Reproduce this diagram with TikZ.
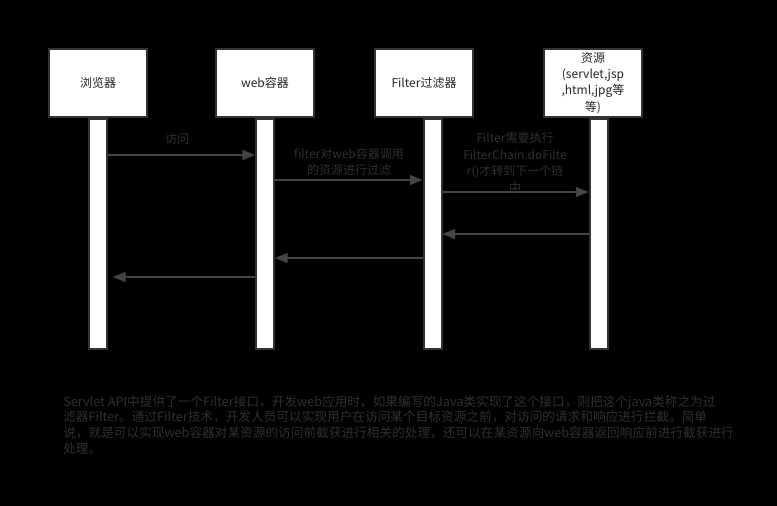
\documentclass[tikz,border=0pt]{standalone}
\usepackage{fontspec}
\setmainfont{Noto Sans CJK SC}
\usepackage{xcolor}
\usetikzlibrary{arrows.meta}
\definecolor{linegray}{HTML}{454545}
\definecolor{boxgray}{HTML}{333333}
\definecolor{textgray}{HTML}{303030}

\begin{document}
\begin{tikzpicture}[x=0.75pt,y=-0.75pt,
	actor/.style={draw=boxgray,line width=1.5pt,fill=white,minimum width=74pt,minimum height=51.5pt,inner sep=1pt,align=center,text=black!85,font=\fontsize{9}{12.2}\selectfont},
	bar/.style={draw=boxgray,line width=1.5pt,fill=white,minimum width=13.5pt,minimum height=172.5pt,inner sep=0pt},
	msg/.style={draw=linegray,line width=1pt,-{Triangle[length=9.5pt,width=7.5pt]}},
	lbl/.style={text=textgray,align=center,font=\fontsize{9}{12.4}\selectfont}]
	\fill[black] (0,0) rectangle (777,506);
	\useasboundingbox (0,0) rectangle (777,506);
	% lifelines
	\node[bar] (browserbar) at (98,234) {};
	\node[bar] (webbar) at (265,234) {};
	\node[bar] (filterbar) at (432.5,234) {};
	\node[bar] (resbar) at (598.5,234) {};
	% participants
	\node[actor] (browser) at (98,83) {浏览器};
	\node[actor] (web) at (265,83) {web容器};
	\node[actor] (filter) at (424,83) {Filter过滤器};
	\node[actor] (res) at (593,83) {资源\\(servlet,jsp\\,html,jpg等\\等)};
	% message heights
	\coordinate (m1) at (0,155);
	\coordinate (m2) at (0,180);
	\coordinate (m3) at (0,192);
	\coordinate (m4) at (0,234);
	\coordinate (m5) at (0,258);
	\coordinate (m6) at (0,277);
	% requests
	\draw[msg] (browserbar.east |- m1) -- (webbar.west |- m1);
	\node[lbl] (visit) at (177,139) {访问};
	\draw[msg] (webbar.east |- m2) -- (filterbar.west |- m2);
	\node[lbl] (dofilter) at (349,162) {filter对web容器调用\\的资源进行过滤};
	\draw[msg] (filterbar.east |- m3) -- (resbar.west |- m3);
	\node[lbl] (chain) at (515,163) {Filter需要执行\\FilterChain.doFilte\\r()才转到下一个链\\中};
	% responses
	\draw[msg] (resbar.west |- m4) -- (filterbar.east |- m4);
	\draw[msg] (filterbar.west |- m5) -- (webbar.east |- m5);
	\draw[msg,shorten >=3.75pt] (webbar.west |- m6) -- (browserbar.east |- m6);
	% note
	\node[text=textgray,anchor=north west,inner sep=0pt,align=left,font=\fontsize{9.5}{11.8}\selectfont] (note) at (63,395)
	{Servlet API中提供了一个Filter接口，开发web应用时，如果编写的Java类实现了这个接口，则把这个java类称之为过\\
	滤器Filter。通过Filter技术，开发人员可以实现用户在访问某个目标资源之前，对访问的请求和响应进行拦截。简单\\
	说，就是可以实现web容器对某资源的访问前截获进行相关的处理，还可以在某资源向web容器返回响应前进行截获进行\\
	处理。};
\end{tikzpicture}
\end{document}
